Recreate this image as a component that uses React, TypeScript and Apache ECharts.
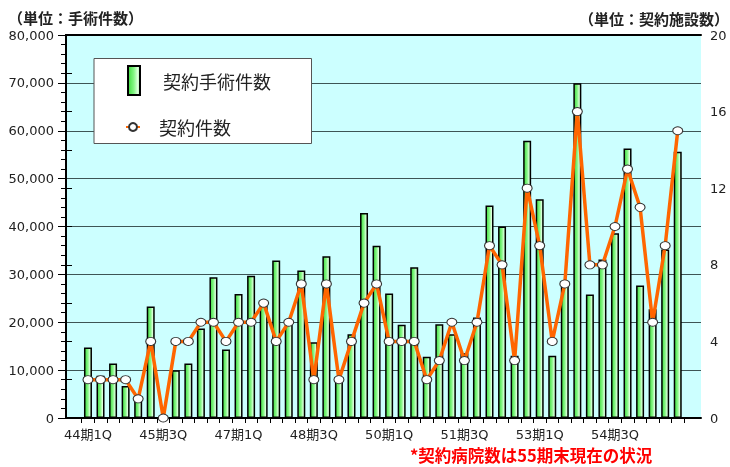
import React, { useEffect, useRef } from "react";
import * as echarts from "echarts";

const quarters = [
  "44期1Q", "44期2Q", "44期3Q", "44期4Q",
  "45期1Q", "45期2Q", "45期3Q", "45期4Q",
  "46期1Q", "46期2Q", "46期3Q", "46期4Q",
  "47期1Q", "47期2Q", "47期3Q", "47期4Q",
  "48期1Q", "48期2Q", "48期3Q", "48期4Q",
  "49期1Q", "49期2Q", "49期3Q", "49期4Q",
  "50期1Q", "50期2Q", "50期3Q", "50期4Q",
  "51期1Q", "51期2Q", "51期3Q", "51期4Q",
  "52期1Q", "52期2Q", "52期3Q", "52期4Q",
  "53期1Q", "53期2Q", "53期3Q", "53期4Q",
  "54期1Q", "54期2Q", "54期3Q", "54期4Q",
  "55期1Q", "55期2Q", "55期3Q", "55期4Q",
];

const surgeries = [
  14700, 8800, 11400, 6700, 4000, 23300, 0, 10000, 11400, 18700, 29400, 14300,
  25900, 29700, 23500, 32900, 20300, 30800, 15800, 33800, 8300, 17500, 42800, 36000,
  26000, 19500, 31500, 12800, 19600, 17500, 13500, 21000, 44400, 40000, 13000, 57900,
  45700, 13000, 28300, 69900, 25800, 33100, 38600, 56300, 27700, 22700, 35200, 55600,
];

const contracts = [
  2, 2, 2, 2, 1, 4, 0, 4, 4, 5, 5, 4,
  5, 5, 6, 4, 5, 7, 2, 7, 2, 4, 6, 7,
  4, 4, 4, 2, 3, 5, 3, 5, 9, 8, 3, 12,
  9, 4, 7, 16, 8, 8, 10, 13, 11, 5, 9, 15,
];

const seriesNames = ["契約手術件数", "契約件数"];
const leftUnit = "（単位：手術件数）";
const rightUnit = "（単位：契約施設数）";
const footnote = "*契約病院数は55期末現在の状況";

const JP = "'Noto Sans CJK JP', 'Noto Sans', sans-serif";
const NUM = "'DejaVu Sans', Verdana, 'Noto Sans CJK JP', sans-serif";

export default function App() {
  const ref = useRef<HTMLDivElement>(null);

  useEffect(() => {
    if (!ref.current) return;
    const chart = echarts.init(ref.current, null, { renderer: "svg" });

    const barGradient = new echarts.graphic.LinearGradient(0, 0, 1, 0, [
      { offset: 0, color: "#3fdc3f" },
      { offset: 0.5, color: "#88f888" },
      { offset: 0.8, color: "#dcffdc" },
      { offset: 1, color: "#a8f8a8" },
    ]);

    const option: any = {
      animation: false,
      grid: [
        {
          left: 66, right: 29, top: 35, bottom: 49,
          show: true, backgroundColor: "#ccffff", borderWidth: 0,
        },
        { left: 81.7, right: 46, top: 35, bottom: 49 },
      ],
      xAxis: [
        {
          type: "value", gridIndex: 0, min: 0, max: 1, position: "bottom",
          axisLine: { show: true, lineStyle: { color: "#000", width: 2 } },
          axisTick: { show: false }, axisLabel: { show: false }, splitLine: { show: false },
        },
        {
          type: "value", gridIndex: 0, min: 0, max: 1, position: "top",
          axisLine: { show: true, onZero: false, lineStyle: { color: "#000", width: 2 } },
          axisTick: { show: false }, axisLabel: { show: false }, splitLine: { show: false },
        },
        {
          type: "category", gridIndex: 1, data: quarters, boundaryGap: true,
          axisLine: { show: false },
          axisTick: { show: true, interval: 0, length: 5, lineStyle: { color: "#000", width: 1 } },
          axisLabel: {
            interval: 5, margin: 10, fontSize: 13, lineHeight: 13, color: "#222", fontFamily: NUM,
          },
          splitLine: { show: false },
        },
      ],
      yAxis: [
        {
          type: "value", gridIndex: 0, position: "left", min: 0, max: 80000, interval: 10000,
          axisLine: { show: true, lineStyle: { color: "#000", width: 2 } },
          axisTick: { show: true, length: 8, lineStyle: { color: "#000", width: 1 } },
          minorTick: { show: true, splitNumber: 5, length: 5, lineStyle: { color: "#000", width: 1 } },
          axisLabel: {
            margin: 12, fontSize: 13, color: "#222", fontFamily: NUM,
            formatter: (v: number) => v.toLocaleString("en-US"),
          },
          splitLine: { show: true, lineStyle: { color: "#3d5555", width: 1 } },
        },
        {
          type: "value", gridIndex: 0, position: "right", min: 0, max: 20, interval: 2,
          axisLine: { show: true, lineStyle: { color: "#000", width: 2 } },
          axisTick: { show: true, length: 6, lineStyle: { color: "#000", width: 1 } },
          axisLabel: {
            margin: 9, fontSize: 13, color: "#222", fontFamily: NUM,
            formatter: (v: number) => (v % 4 === 0 ? String(v) : ""),
          },
          splitLine: { show: false },
        },
        { type: "value", gridIndex: 1, min: 0, max: 80000, show: false, splitLine: { show: false } },
        { type: "value", gridIndex: 1, min: 0, max: 20, show: false, splitLine: { show: false } },
      ],
      legend: [
        {
          data: [{ name: seriesNames[0], icon: "rect" }],
          left: 127, top: 65, padding: 0,
          itemWidth: 12, itemHeight: 29,
          textStyle: { fontSize: 18, color: "#222", fontFamily: JP, padding: [0, 0, 0, 18] },
        },
        {
          data: [{ name: seriesNames[1] }],
          left: 125, top: 118, padding: 0,
          itemWidth: 14, itemHeight: 10,
          textStyle: { fontSize: 18, color: "#222", fontFamily: JP, padding: [0, 0, 0, 14] },
        },
      ],
      graphic: [
        {
          type: "rect", z: 3, silent: true,
          shape: { x: 94, y: 58.5, width: 217.5, height: 85 },
          style: { fill: "#fff", stroke: "#555", lineWidth: 1 },
        },
        {
          type: "text", left: 8, top: 10,
          style: { text: leftUnit, font: `bold 15px ${JP}`, fill: "#222" },
        },
        {
          type: "text", right: 1, top: 11,
          style: { text: rightUnit, font: `bold 15px ${JP}`, fill: "#222" },
        },
        {
          type: "text", left: 410, top: 447,
          style: { text: footnote, font: `bold 16.5px ${JP}`, fill: "#ff0000", lineHeight: 16 },
        },
      ],
      series: [
        {
          name: seriesNames[0], type: "bar", xAxisIndex: 2, yAxisIndex: 2,
          data: surgeries, barWidth: 8,
          itemStyle: { color: barGradient, borderColor: "#000", borderWidth: 1.5 },
        },
        {
          name: seriesNames[1], type: "line", xAxisIndex: 2, yAxisIndex: 3,
          data: contracts, symbol: "circle", symbolSize: [10, 8],
          lineStyle: { color: "#ff6600", width: 3.5 },
          itemStyle: { color: "#fff", borderColor: "#333", borderWidth: 1 },
          z: 5,
        },
      ],
    };

    chart.setOption(option);
    return () => chart.dispose();
  }, []);

  return (
    <div
      ref={ref}
      style={{ position: "fixed", left: 0, top: 0, width: 730, height: 467 }}
    />
  );
}
